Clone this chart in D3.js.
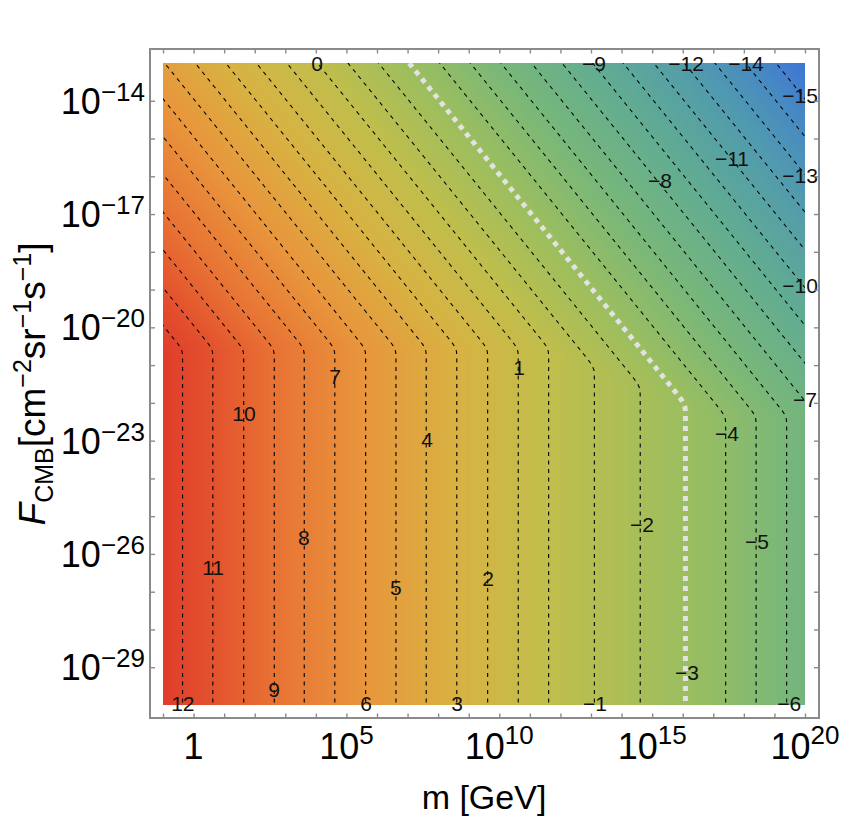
<!DOCTYPE html>
<html>
<head>
<meta charset="utf-8">
<script src="https://cdn.jsdelivr.net/npm/d3@7"></script>
<style>
  body { margin: 0; background: #fff; }
  svg text { font-family: "Liberation Sans", Arial, sans-serif; }
</style>
</head>
<body>
<script>
// vertical (low flux) branch of each contour: level -> log10(m / GeV)
const lowLevels = [12, 11, 10, 9, 8, 7, 6, 5, 4, 3, 2, 1, 0, -1, -2, -3, -4, -5, -6];
const lowLogM = [-0.36, 0.63, 1.64, 2.64, 3.62, 4.62, 5.63, 6.62, 7.61, 8.61, 9.62, 10.62, 11.61, 13.11, 14.61, 16.09, 17.41, 18.40, 19.40];

// diagonal (high flux) branch: level -> log10(m) + log10(F) along the line
const diagLevels = [-16, -15, -14, -13, -12, -11, -10, -9, -8, -7, -6, -5, -4, -3, -2, -1, 0, 1, 2, 3, 4, 5, 6, 7, 8, 9, 10, 11, 12, 13];
const diagSum = [7.05, 6.05, 5.05, 4.05, 3.05, 2.05, 1.05, 0.05, -0.95, -1.95, -2.95, -3.95, -4.95, -5.95, -6.95, -7.95, -8.95, -9.95, -10.95, -11.95, -12.95, -13.95, -14.95, -15.95, -16.95, -17.95, -18.95, -19.95, -20.95, -21.95];

// contour lines drawn
const contourLevels = [-15, -14, -13, -12, -11, -10, -9, -8, -7, -6, -5, -4, -3, -2, -1, 0, 1, 2, 3, 4, 5, 6, 7, 8, 9, 10, 11, 12];

// contour labels (level, log10 m, log10 F)
const labelLevel = [0, -9, -12, -14, -15, -13, -10, -7, -8, -11, 7, 10, 4, 1, -4, -2, 8, 11, 5, 2, -5, -3, 12, 9, 6, 3, -1, -6];
const labelLogM = [4.04, 13.10, 16.11, 18.07, 19.84, 19.84, 19.84, 20.0, 15.26, 17.61, 4.63, 1.65, 7.64, 10.65, 17.45, 14.67, 3.61, 0.64, 6.62, 9.63, 18.43, 16.14, -0.35, 2.63, 5.64, 8.62, 13.13, 19.48];
const labelLogF = [-13.0, -13.0, -13.0, -13.0, -13.85, -15.97, -18.88, -21.92, -16.10, -15.52, -21.29, -22.27, -22.98, -21.05, -22.80, -25.21, -25.55, -26.35, -26.88, -26.64, -25.66, -29.13, -29.97, -29.58, -29.97, -29.97, -29.97, -29.97];

// colour map: level -> colour
const colorLevels = [-16, -14, -12, -9, -6, -3, 0, 3, 6, 9, 11, 12.7];
const colorHex = ['#3e74d6', '#488cc0', '#529cac', '#62ac91', '#78b77a', '#9bbe5f', '#c0be4c', '#d8b242', '#e8963c', '#e87234', '#e3522e', '#e03c2a'];

// axis ticks (exponents)
const xTickMinor = [-1, 0, 1, 2, 3, 4, 5, 6, 7, 8, 9, 10, 11, 12, 13, 14, 15, 16, 17, 18, 19, 20];
const xTickLabels = [0, 5, 10, 15, 20];
const yTickMinor = [-14, -15, -16, -17, -18, -19, -20, -21, -22, -23, -24, -25, -26, -27, -28, -29];
const yTickLabels = [-14, -17, -20, -23, -26, -29];

const W = 843, H = 824;
const fx0 = 163, fx1 = 805, fy0 = 63, fy1 = 705;

const svg = d3.select('body').append('svg')
    .attr('width', W)
    .attr('height', H);

const x = d3.scaleLinear().domain([-1, 20]).range([fx0, fx1]);
const y = d3.scaleLinear().domain([-13, -30]).range([fy0, fy1]);

const lowScale = d3.scaleLinear().domain(lowLogM).range(lowLevels);
const diagScale = d3.scaleLinear().domain(diagSum).range(diagLevels);
const color = d3.scaleLinear().domain(colorLevels).range(colorHex).clamp(true);

// smooth minimum of the two branches (fairly sharp corner)
const sharp = 8;
function field(lm, lf) {
    const zl = lowScale(lm), zh = diagScale(lm + lf);
    const lo = Math.min(zl, zh), hi = Math.max(zl, zh);
    return lo - Math.log10(1 + Math.pow(10, -sharp * (hi - lo))) / sharp;
}

// shading, painted on a canvas and put in as an image
const cw = fx1 - fx0, ch = fy1 - fy0;
const canvas = document.createElement('canvas');
canvas.width = cw; canvas.height = ch;
const ctx = canvas.getContext('2d');
const img = ctx.createImageData(cw, ch);
const lutN = 1200, zMin = -17, zMax = 14;
const lut = [];
for (let k = 0; k <= lutN; k++) {
    const c = d3.rgb(color(zMin + (zMax - zMin) * k / lutN));
    lut.push([c.r, c.g, c.b]);
}
for (let j = 0; j < ch; j++) {
    const lf = y.invert(fy0 + j + 0.5);
    for (let i = 0; i < cw; i++) {
        const z = field(x.invert(fx0 + i + 0.5), lf);
        const k = Math.max(0, Math.min(lutN, Math.round((z - zMin) / (zMax - zMin) * lutN)));
        const o = (j * cw + i) * 4;
        img.data[o] = lut[k][0];
        img.data[o + 1] = lut[k][1];
        img.data[o + 2] = lut[k][2];
        img.data[o + 3] = 255;
    }
}
ctx.putImageData(img, 0, 0);

svg.append('image')
    .attr('x', fx0).attr('y', fy0)
    .attr('width', cw).attr('height', ch)
    .attr('preserveAspectRatio', 'none')
    .attr('href', canvas.toDataURL());

// clip paths
const defs = svg.append('defs');
defs.append('clipPath').attr('id', 'plotClip')
    .append('rect').attr('x', fx0).attr('y', fy0).attr('width', cw).attr('height', ch);
defs.append('clipPath').attr('id', 'frameClip')
    .append('rect').attr('x', 151).attr('y', 50).attr('width', 667).attr('height', 667);

// contour lines on a grid a little wider than the plot
const step = 2, pad = 3;
const nx = cw / step + 1 + 2 * pad, ny = ch / step + 1 + 2 * pad;
const values = new Float64Array(nx * ny);
for (let j = 0; j < ny; j++) {
    const lf = y.invert(fy0 + (j - pad) * step);
    for (let i = 0; i < nx; i++) {
        values[j * nx + i] = field(x.invert(fx0 + (i - pad) * step), lf);
    }
}
const contours = d3.contours().size([nx, ny]).thresholds(contourLevels)(values);
const path = d3.geoPath(d3.geoTransform({
    point: function(gx, gy) {
        this.stream.point(fx0 + (gx - 0.5 - pad) * step, fy0 + (gy - 0.5 - pad) * step);
    }
}));

const lines = svg.append('g').attr('clip-path', 'url(#plotClip)');
lines.selectAll('path.c')
    .data(contours.filter(c => c.value !== -3))
    .join('path')
    .attr('class', 'c')
    .attr('d', path)
    .attr('fill', 'none')
    .attr('stroke', '#000')
    .attr('stroke-width', 1.1)
    .attr('stroke-dasharray', '4,4.5');
lines.selectAll('path.w')
    .data(contours.filter(c => c.value === -3))
    .join('path')
    .attr('class', 'w')
    .attr('d', path)
    .attr('fill', 'none')
    .attr('stroke', '#e2e2e2')
    .attr('stroke-width', 5)
    .attr('stroke-dasharray', '5,5');

// contour labels
const fmt = v => (v < 0 ? '\u2212' + Math.abs(v) : String(v));
svg.append('g').attr('clip-path', 'url(#frameClip)')
    .selectAll('text')
    .data(labelLevel)
    .join('text')
    .attr('x', (d, i) => x(labelLogM[i]))
    .attr('y', (d, i) => y(labelLogF[i]))
    .attr('dy', '0.36em')
    .attr('text-anchor', 'middle')
    .attr('font-size', 21)
    .attr('fill', '#111')
    .text(d => fmt(d));

// frame and ticks
const tickColor = '#8a8a8a';
function styleAxis(g) {
    g.select('.domain').remove();
    g.selectAll('.tick line').attr('stroke', tickColor).attr('stroke-width', 1.4);
    g.selectAll('.tick text').remove();
}
svg.append('g').attr('transform', 'translate(0,718)')
    .call(d3.axisBottom(x).tickValues(xTickMinor).tickSize(-4.5)).call(styleAxis);
svg.append('g').attr('transform', 'translate(0,49)')
    .call(d3.axisTop(x).tickValues(xTickMinor).tickSize(-4.5)).call(styleAxis);
svg.append('g').attr('transform', 'translate(150,0)')
    .call(d3.axisLeft(y).tickValues(yTickMinor).tickSize(-5)).call(styleAxis);
svg.append('g').attr('transform', 'translate(819,0)')
    .call(d3.axisRight(y).tickValues(yTickMinor).tickSize(-5)).call(styleAxis);

svg.append('rect')
    .attr('x', 150).attr('y', 49)
    .attr('width', 669).attr('height', 669)
    .attr('fill', 'none')
    .attr('stroke', tickColor)
    .attr('stroke-width', 2);

// tick labels
const xl = svg.append('g').selectAll('text')
    .data(xTickLabels)
    .join('text')
    .attr('x', d => x(d))
    .attr('y', 759)
    .attr('text-anchor', 'middle')
    .attr('font-size', 36)
    .attr('fill', '#000');
xl.each(function(d) {
    const t = d3.select(this);
    if (d === 0) { t.text('1'); return; }
    t.append('tspan').text('10');
    t.append('tspan').attr('dy', -15).attr('font-size', 26).text(fmt(d));
});

const yl = svg.append('g').selectAll('text')
    .data(yTickLabels)
    .join('text')
    .attr('x', 145)
    .attr('y', d => y(d) + 13)
    .attr('text-anchor', 'end')
    .attr('font-size', 36)
    .attr('fill', '#000');
yl.each(function(d) {
    const t = d3.select(this);
    t.append('tspan').text('10');
    t.append('tspan').attr('dy', -13).attr('font-size', 26).text(fmt(d));
});

// axis titles
svg.append('text')
    .attr('x', 484).attr('y', 809)
    .attr('text-anchor', 'middle')
    .attr('font-size', 34)
    .text('m [GeV]');

const yt = svg.append('text')
    .attr('transform', 'translate(45,384) rotate(-90)')
    .attr('text-anchor', 'middle')
    .attr('font-size', 37);
yt.append('tspan').attr('font-style', 'italic').text('F');
yt.append('tspan').attr('font-size', 25).attr('dy', 8).text('CMB');
yt.append('tspan').attr('dy', -8).text('[cm');
yt.append('tspan').attr('font-size', 25).attr('dy', -14).text('\u22122');
yt.append('tspan').attr('dy', 14).text('sr');
yt.append('tspan').attr('font-size', 25).attr('dy', -14).text('\u22121');
yt.append('tspan').attr('dy', 14).text('s');
yt.append('tspan').attr('font-size', 25).attr('dy', -14).text('\u22121');
yt.append('tspan').attr('dy', 14).text(']');
</script>
</body>
</html>
